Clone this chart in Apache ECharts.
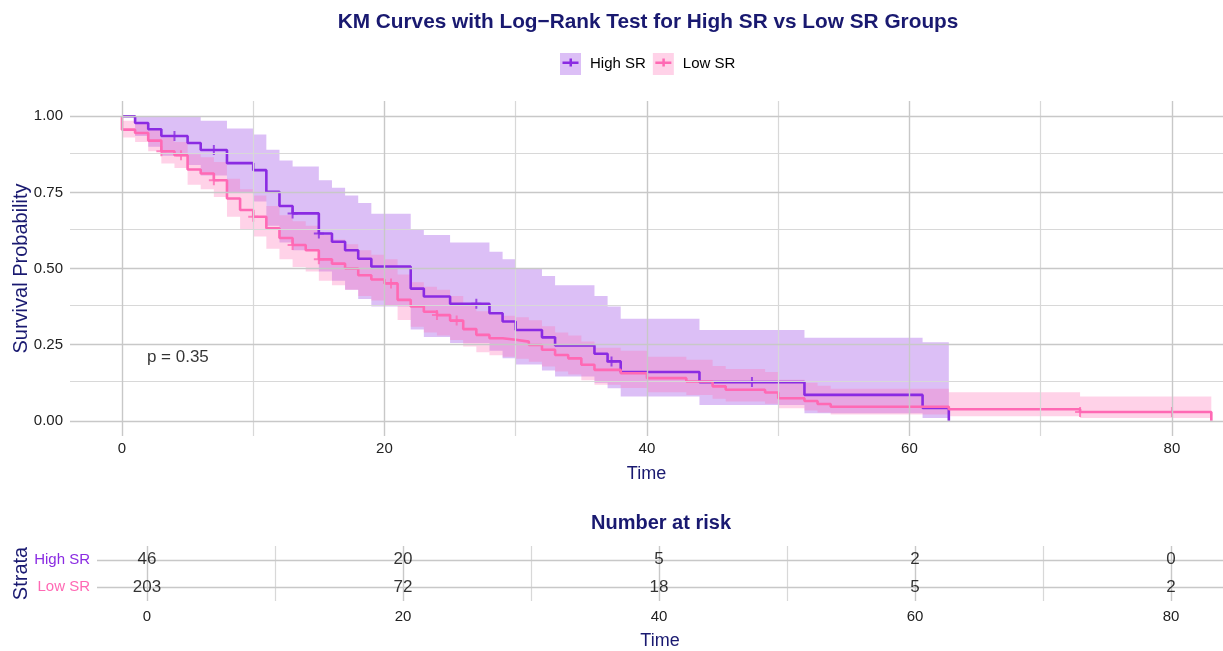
<!DOCTYPE html>
<html><head><meta charset="utf-8">
<script src="https://cdn.jsdelivr.net/npm/echarts@6/dist/echarts.min.js"></script>
<style>html,body{margin:0;padding:0;background:#fff}#c{width:1223px;height:651px}</style>
</head><body><div id="c"></div>
<script>
// ---- data ----
const strata = ['High SR', 'Low SR'];
const highTimes = [0,1,2,3,5,6,8,10,11,12,13,15,16,17,18,19,22,23,25,28,29,30,32,33,36,37,38,44,52,61];
const highSurv  = [1.0,0.978,0.957,0.935,0.912,0.889,0.846,0.823,0.752,0.705,0.681,0.615,0.588,0.56,0.532,0.506,0.434,0.408,0.384,0.353,0.326,0.298,0.274,0.247,0.22,0.195,0.16,0.127,0.085,0.042];
const highUpper = [1,1,1,1,1,0.985,0.96,0.94,0.89,0.855,0.835,0.79,0.765,0.74,0.715,0.68,0.63,0.61,0.585,0.555,0.53,0.50,0.475,0.445,0.41,0.375,0.335,0.298,0.273,0.258];
const highLower = [1,0.935,0.90,0.87,0.84,0.805,0.75,0.72,0.64,0.585,0.56,0.49,0.46,0.43,0.40,0.375,0.30,0.275,0.255,0.23,0.205,0.185,0.165,0.145,0.125,0.107,0.08,0.052,0.025,0.009];
const highEnd = 63;
const highCensorT = [4,7,13,15,27,37.3,48];
const highCensorV = [0.935,0.889,0.681,0.615,0.384,0.195,0.127];

const lowTimes = [0,0,1,2,3,4,5,6,7,8,9,10,11,12,13,14,15,16,17,18,19,20,21,22,23,24,25,26,27,28,29,30,31,32,33,34,35,36,38,40,43,45,46,49,50,52,53,54,63,73];
const lowSurv  = [1,0.956,0.945,0.92,0.885,0.872,0.825,0.812,0.79,0.73,0.692,0.67,0.632,0.60,0.577,0.56,0.53,0.516,0.50,0.478,0.464,0.451,0.397,0.375,0.358,0.347,0.329,0.301,0.282,0.271,0.266,0.26,0.249,0.233,0.216,0.205,0.184,0.167,0.156,0.14,0.129,0.113,0.102,0.093,0.074,0.065,0.055,0.046,0.038,0.029];
const lowLower = [1,0.93,0.915,0.885,0.845,0.83,0.775,0.76,0.735,0.67,0.63,0.605,0.565,0.53,0.505,0.49,0.46,0.445,0.43,0.41,0.395,0.38,0.331,0.309,0.29,0.28,0.265,0.244,0.225,0.215,0.21,0.204,0.194,0.178,0.162,0.152,0.133,0.118,0.108,0.094,0.085,0.072,0.063,0.056,0.041,0.034,0.027,0.021,0.015,0.009];
const lowUpper = [1,0.985,0.975,0.955,0.93,0.915,0.875,0.865,0.85,0.795,0.76,0.74,0.705,0.675,0.655,0.64,0.61,0.595,0.58,0.56,0.545,0.53,0.48,0.455,0.44,0.43,0.41,0.38,0.36,0.35,0.345,0.34,0.33,0.31,0.29,0.28,0.26,0.24,0.23,0.21,0.20,0.18,0.17,0.16,0.135,0.125,0.115,0.105,0.094,0.08];
const lowEnd = 83;
const lowCensorT = [3,4.5,7,10,13,15,20.5,24,25.5,73,80];
const lowCensorV = [0.885,0.872,0.79,0.67,0.577,0.53,0.451,0.347,0.329,0.029,0.029];

const riskTimes = [0,20,40,60,80];
const highRisk = [46,20,5,2,0];
const lowRisk = [203,72,18,5,2];

const xTicks = [0,20,40,60,80];
const xMinor = [10,30,50,70];
const yTicks = [0,0.25,0.5,0.75,1];
const yMinor = [0.125,0.375,0.625,0.875];
const pText = 'p = 0.35';
const pPos = [1.9, 0.21];

// ---- style ----
const cHigh = '#8A2BE2', cLow = '#FF69B4';
const fHigh = 'rgba(138,43,226,0.3)', fLow = 'rgba(255,105,180,0.3)';
const navy = '#191970';
const FONT = '"Liberation Sans", Arial, sans-serif';
const gMajor = '#c8c8c8', gMinor = '#d8d8d8';

function kmLine(ts, sv, end) {
  const d = ts.map((t, i) => [t, sv[i]]);
  d.push([end, 0]);
  return d;
}
function bandPoints(api, ts, lo, hi, end) {
  const up = [], dn = [];
  for (let i = 0; i < ts.length; i++) {
    const t0 = ts[i], t1 = i + 1 < ts.length ? ts[i + 1] : end;
    up.push(api.coord([t0, hi[i]]), api.coord([t1, hi[i]]));
    dn.push(api.coord([t0, lo[i]]), api.coord([t1, lo[i]]));
  }
  return up.concat(dn.reverse());
}
const crossPath = 'path://M4,0 H6 V4 H10 V6 H6 V10 H4 V6 H0 V4 H4 Z';
const legendLine = 'path://M0,3 H16 V5.5 H0 Z M7,0 H9.5 V8 H7 Z';

const xMin = -3.96, xMax = 83.89;
const tMin = -3.906, tMax = 84.06;

const chart = echarts.init(document.getElementById('c'), null, {renderer: 'canvas'});
const option = {
  animation: false,
  textStyle: {fontFamily: FONT},
  title: [
    {text: 'KM Curves with Log\u2212Rank Test for High SR vs Low SR Groups', left: 648, top: 12, textAlign: 'center', padding: 0,
     textStyle: {fontSize: 20.8, fontWeight: 'bold', color: navy, fontFamily: FONT}},
    {text: 'Number at risk', left: 661, top: 513, textAlign: 'center', padding: 0,
     textStyle: {fontSize: 20, fontWeight: 'bold', color: navy, fontFamily: FONT}}
  ],
  legend: [
    {data: ['High SR ', 'Low SR '], left: 560, top: 53, padding: 0, itemWidth: 21, itemHeight: 22, itemGap: 7, icon: 'rect',
     formatter: n => n.trim(), textStyle: {fontSize: 15, color: '#000', padding: [0,0,0,4]}, selectedMode: false},
    {data: ['High SR', 'Low SR'], left: 562.5, top: 55, padding: 0, itemWidth: 16, itemHeight: 8, itemGap: 12, icon: legendLine,
     textStyle: {fontSize: 15, color: 'rgba(0,0,0,0)', padding: [0,0,0,4], lineHeight: 8}, selectedMode: false}
  ],
  grid: [
    {left: 70, right: 0, top: 101, bottom: 215, outerBoundsMode: 'none', containLabel: false},
    {left: 97, right: 0, top: 546, bottom: 50, outerBoundsMode: 'none', containLabel: false}
  ],
  xAxis: [
    {type: 'value', gridIndex: 0, min: xMin, max: xMax, name: 'Time', nameLocation: 'middle', nameGap: 29, nameMoveOverlap: false,
     nameTextStyle: {fontSize: 18, color: navy},
     axisLine: {show: false}, splitLine: {show: false},
     axisTick: {show: true, length: 4, lineStyle: {color: '#444'}, customValues: xTicks},
     axisLabel: {fontSize: 15, color: '#222', margin: 5, customValues: xTicks}},
    {type: 'value', gridIndex: 1, min: tMin, max: tMax, name: 'Time', nameLocation: 'middle', nameGap: 31, nameMoveOverlap: false,
     nameTextStyle: {fontSize: 18, color: navy},
     axisLine: {show: false}, splitLine: {show: false},
     axisTick: {show: false, customValues: riskTimes},
     axisLabel: {fontSize: 15, color: '#222', margin: 8, customValues: riskTimes}}
  ],
  yAxis: [
    {type: 'value', gridIndex: 0, min: -0.05, max: 1.05, name: 'Survival Probability', nameLocation: 'middle', nameGap: 39, nameMoveOverlap: false,
     nameTextStyle: {fontSize: 20, color: navy},
     axisLine: {show: false}, splitLine: {show: false},
     axisTick: {show: true, length: 5, lineStyle: {color: '#444'}, customValues: yTicks},
     axisLabel: {fontSize: 15, color: '#222', margin: 7, customValues: yTicks, formatter: v => v.toFixed(2)}},
    {type: 'category', gridIndex: 1, data: strata.slice().reverse(), name: 'Strata', nameLocation: 'middle', nameGap: 66, nameMoveOverlap: false,
     nameTextStyle: {fontSize: 20, color: navy},
     axisLine: {show: false}, axisTick: {show: false}, splitLine: {show: false},
     axisLabel: {fontSize: 15, margin: 7, color: v => v === strata[0] ? cHigh : cLow}}
  ],
  series: [
    {type: 'line', name: 'gridMain', xAxisIndex: 0, yAxisIndex: 0, data: [], silent: true, z: 0,
     markLine: {silent: true, symbol: 'none', label: {show: false}, animation: false,
       data: [
         ...yMinor.map(v => ({yAxis: v, lineStyle: {color: gMinor, width: 1.2, type: 'solid'}})),
         ...xMinor.map(v => ({xAxis: v, lineStyle: {color: gMinor, width: 1.2, type: 'solid'}})),
         ...yTicks.map(v => ({yAxis: v, lineStyle: {color: gMajor, width: 1.4, type: 'solid'}})),
         ...xTicks.map(v => ({xAxis: v, lineStyle: {color: gMajor, width: 1.4, type: 'solid'}}))
       ]}},
    {type: 'line', name: 'gridRisk', xAxisIndex: 1, yAxisIndex: 1, data: [], silent: true, z: 0,
     markLine: {silent: true, symbol: 'none', label: {show: false}, animation: false,
       data: [
         ...xMinor.map(v => ({xAxis: v, lineStyle: {color: gMinor, width: 1.2, type: 'solid'}})),
         ...riskTimes.map(v => ({xAxis: v, lineStyle: {color: gMajor, width: 1.4, type: 'solid'}})),
         ...strata.map(s => ({yAxis: s, lineStyle: {color: gMajor, width: 1.4, type: 'solid'}}))
       ]}},
    {type: 'custom', name: 'High SR ', xAxisIndex: 0, yAxisIndex: 0, data: [[0, 0]], encode: {x: 0, y: 1}, silent: true, z: 1,
     itemStyle: {color: fHigh},
     renderItem: (p, api) => ({type: 'polygon', shape: {points: bandPoints(api, highTimes, highLower, highUpper, highEnd)}, style: {fill: fHigh}})},
    {type: 'custom', name: 'Low SR ', xAxisIndex: 0, yAxisIndex: 0, data: [[0, 0]], encode: {x: 0, y: 1}, silent: true, z: 1,
     itemStyle: {color: fLow},
     renderItem: (p, api) => ({type: 'polygon', shape: {points: bandPoints(api, lowTimes, lowLower, lowUpper, lowEnd)}, style: {fill: fLow}})},
    {type: 'line', name: 'High SR', xAxisIndex: 0, yAxisIndex: 0, step: 'end', showSymbol: false, z: 3,
     data: kmLine(highTimes, highSurv, highEnd), itemStyle: {color: cHigh}, lineStyle: {color: cHigh, width: 2.6}},
    {type: 'line', name: 'Low SR', xAxisIndex: 0, yAxisIndex: 0, step: 'end', showSymbol: false, z: 3,
     data: kmLine(lowTimes, lowSurv, lowEnd), itemStyle: {color: cLow}, lineStyle: {color: cLow, width: 2.6}},
    {type: 'scatter', name: 'High SR', xAxisIndex: 0, yAxisIndex: 0, symbol: crossPath, symbolSize: 10, z: 4,
     data: highCensorT.map((t, i) => [t, highCensorV[i]]), itemStyle: {color: cHigh}},
    {type: 'scatter', name: 'Low SR', xAxisIndex: 0, yAxisIndex: 0, symbol: crossPath, symbolSize: 10, z: 4,
     data: lowCensorT.map((t, i) => [t, lowCensorV[i]]), itemStyle: {color: cLow}},
    {type: 'scatter', name: 'pval', xAxisIndex: 0, yAxisIndex: 0, symbolSize: 0, z: 5, silent: true,
     data: [pPos], label: {show: true, position: 'inside', align: 'left', formatter: pText, fontSize: 17, color: '#000'}},
    {type: 'scatter', name: 'riskHigh', xAxisIndex: 1, yAxisIndex: 1, symbolSize: 0, z: 5, silent: true,
     data: riskTimes.map((t, i) => [t, strata[0], highRisk[i]]),
     label: {show: true, position: 'inside', formatter: p => String(p.value[2]), fontSize: 17, color: '#000'}},
    {type: 'scatter', name: 'riskLow', xAxisIndex: 1, yAxisIndex: 1, symbolSize: 0, z: 5, silent: true,
     data: riskTimes.map((t, i) => [t, strata[1], lowRisk[i]]),
     label: {show: true, position: 'inside', formatter: p => String(p.value[2]), fontSize: 17, color: '#000'}}
  ]
};
chart.setOption(option);
</script>
</body></html>
